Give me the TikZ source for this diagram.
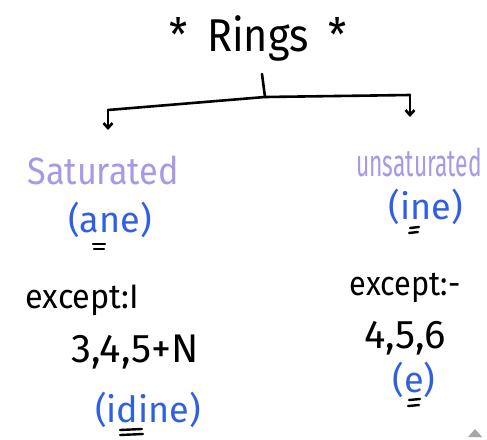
\documentclass[tikz,border=0pt]{standalone}
\usepackage{fontspec}
\setmainfont{Fira Sans}
\usetikzlibrary{arrows.meta}
\definecolor{lilac}{HTML}{A898E6}
\definecolor{inkblue}{HTML}{2F5FE3}
\tikzset{
  ink/.style={line width=2.6pt, line cap=round, line join=round, black},
  txt/.style={inner sep=0pt, anchor=center},
  head/.style={txt, font=\fontsize{46}{50}\selectfont},
  kind/.style={txt, text=lilac, font=\fontsize{38}{42}\selectfont},
  suffix/.style={txt, text=inkblue, font=\fontsize{36}{40}\selectfont},
  note/.style={txt, font=\fontsize{34}{38}\selectfont},
  digits/.style={txt, font=\fontsize{40}{44}\selectfont},
  ulmark/.style={line width=2.4pt, line cap=round, black}
}
\begin{document}
\begin{tikzpicture}[x=1pt, y=-1pt]
  \useasboundingbox (0,0) rectangle (487,439);
  \fill[white] (0,0) rectangle (487,439);

  % title
  \node[head, xscale=0.9] (title) at (258,38) {*\hspace{22pt}Rings\hspace{22pt}*};

  % branching bracket
  \coordinate (stem) at (262,74);
  \coordinate (hub) at (265,97);
  \coordinate (lt) at (108,110);
  \coordinate (rt) at (410,95);
  \draw[ink] (stem) -- (hub);
  \draw[ink] (lt) -- (hub) -- (rt);

  % left branch
  \node[kind, xscale=0.9] (sat) at (103,170) {Saturated};
  \node[suffix] (ane) at (110,220) {(ane)};
  \node[note, xscale=0.95] (exc1) at (82,300) {except:I};
  \node[digits] (nums1) at (135,352) {3,4,5+N};
  \node[suffix] (idine) at (148,410) {(idine)};

  % right branch
  \node[kind, xscale=0.6] (unsat) at (419,162) {unsaturated};
  \node[suffix] (ine) at (426,207) {(ine)};
  \node[note, xscale=0.9] (exc2) at (405,288) {except:-};
  \node[digits] (nums2) at (405,338) {4,5,6};
  \node[suffix] (e) at (414,380) {(e)};

  % arrows down to the two kinds
  \draw[ink, -{Straight Barb[length=5pt,width=9pt]}] (lt) -- ++(0,20);
  \draw[ink, -{Straight Barb[length=5pt,width=9pt]}] (rt) -- ++(0,22);

  % double underlines
  \draw[ulmark] (93,244) -- (105,244) (94,249) -- (104,249);
  \draw[ulmark] (410,228) -- (419,227) (409,233) -- (418,232);
  \draw[ulmark] (120,430) -- (142,429) (120,435) -- (143,434);
  \draw[ulmark] (409,400) -- (420,399) (408,406) -- (419,405);

  % corner marker
  \fill[gray!70] (468,437) -- (482,437) -- (475,429) -- cycle;
\end{tikzpicture}
\end{document}
